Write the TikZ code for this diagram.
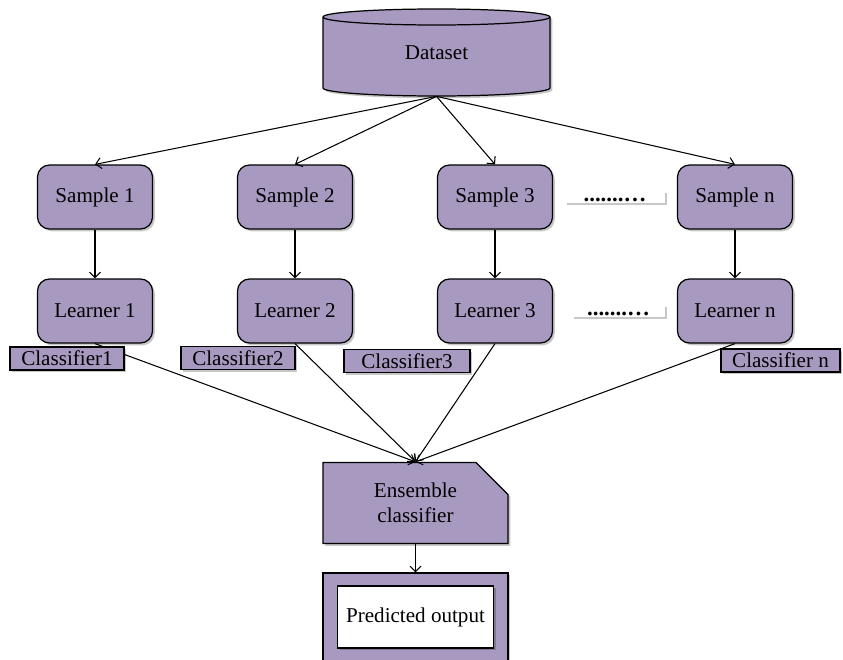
\documentclass[tikz,border=0pt]{standalone}
\usepackage{fontspec}
\setmainfont{Liberation Serif}
\definecolor{enspurple}{RGB}{168,153,192}
\usetikzlibrary{arrows.meta,positioning,shapes.misc,shadows}

\tikzset{
  shade box/.style={drop shadow={shadow xshift=1.3pt, shadow yshift=-1.3pt, opacity=0.22, fill=black}},
  stagebox/.style={draw, line width=0.7pt, fill=enspurple, rounded corners=0.24cm,
    minimum width=2.3cm, minimum height=1.28cm, shade box},
  tagbox/.style={draw, line width=0.7pt, fill=enspurple, inner sep=0pt, minimum height=0.46cm, shade box},
  dotbox/.style={fill=white, minimum height=0.24cm, inner sep=0pt, text height=0.18cm, text depth=0pt,
    font=\fontsize{13}{14}\selectfont\bfseries, shade box},
  link/.style={line width=0.6pt, -{Straight Barb[length=1.1mm,width=2.2mm]}},
}

\begin{document}
\begin{tikzpicture}[font=\fontsize{12}{14}\selectfont]
  \useasboundingbox (0,0) rectangle (16.86,13.18);

  %% Dataset cylinder
  \path[draw, line width=0.7pt, fill=enspurple, shade box]
    (6.46,11.42) arc[start angle=180, end angle=360, x radius=2.27cm, y radius=0.16cm]
    -- (11.0,12.84) arc[start angle=0, end angle=180, x radius=2.27cm, y radius=0.16cm] -- cycle;
  \draw[line width=0.7pt] (6.46,12.84) arc[start angle=180, end angle=360, x radius=2.27cm, y radius=0.16cm];
  \node[minimum width=4.54cm, minimum height=1.74cm] (dataset) at (8.73,12.13) {Dataset};

  %% Samples and learners
  \foreach \i/\x in {1/1.9, 2/5.9, 3/9.9, n/14.7} {
    \node[stagebox] (sample\i) at (\x,9.24) {Sample \i};
    \node[stagebox] (learner\i) at (\x,6.96) {Learner \i};
    \draw[link] (dataset.south) -- (sample\i.north);
    \draw[link] (sample\i.south) -- (learner\i.north);
  }

  %% Dotted gaps
  \node[dotbox, minimum width=2.0cm]  (gapS) at (12.3,9.24)  {.......…};
  \node[dotbox, minimum width=1.86cm] (gapL) at (12.37,6.96) {.......…};

  %% Ensemble
  \node[draw, line width=0.7pt, fill=enspurple, chamfered rectangle,
    chamfered rectangle corners=north east, chamfered rectangle xsep=0.34cm,
    chamfered rectangle ysep=0.3cm, minimum width=3.7cm, minimum height=1.16cm,
    align=center, shade box] (ensemble) at (8.31,3.12) {Ensemble\\classifier};

  \foreach \i in {1,2,3,n}
    \draw[link] (learner\i.south) -- (ensemble.north);

  %% Classifier tags
  \node[tagbox, minimum width=2.28cm] (tag1) at (1.34,6.01)  {Classifier1};
  \node[tagbox, minimum width=2.28cm] (tag2) at (4.76,6.02)  {Classifier2};
  \node[tagbox, minimum width=2.52cm] (tag3) at (8.14,5.96)  {Classifier3};
  \node[tagbox, minimum width=2.38cm] (tagn) at (15.61,5.97) {Classifier n};

  %% Output
  \node[draw, line width=0.7pt, fill=enspurple, minimum width=3.7cm, minimum height=1.76cm, shade box] (output) at (8.31,0.84) {};
  \node[draw, line width=0.7pt, fill=white, minimum width=3.12cm, minimum height=1.24cm, shade box] (predicted) at (8.31,0.84) {Predicted output};
  \draw[link] (ensemble.south) -- (output.north);
\end{tikzpicture}
\end{document}
